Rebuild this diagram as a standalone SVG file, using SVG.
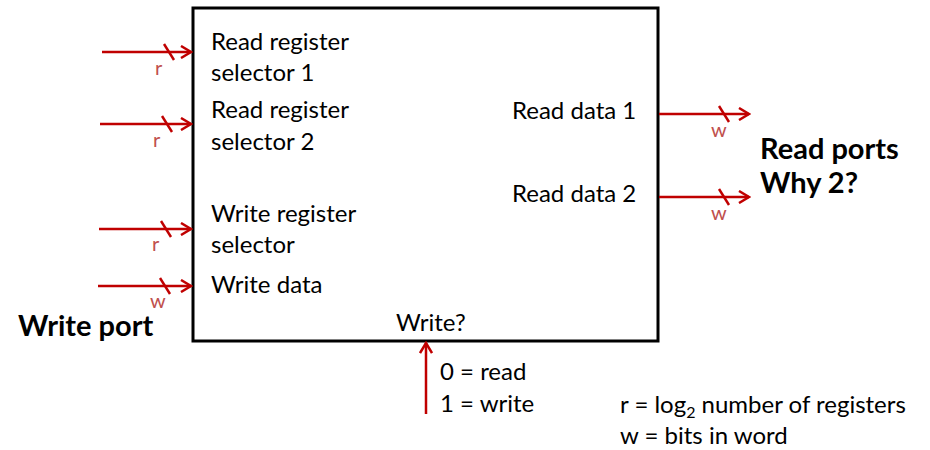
<svg xmlns="http://www.w3.org/2000/svg" width="930" height="450" viewBox="0 0 930 450">
<style>
text{font-family:Lato,"Open Sans","Liberation Sans",sans-serif;font-size:24px;fill:#000}
.lbl{fill:#c0504d;font-size:20px}
.bold{font-weight:bold;font-size:29px}
.wire{stroke:#c00000;stroke-width:2.5;fill:none}
</style>
<defs>
<marker id="ah" markerWidth="14" markerHeight="14" refX="12" refY="7" orient="auto" markerUnits="userSpaceOnUse">
<path d="M2,1 L12,7 L2,13" fill="none" stroke="#c00000" stroke-width="2.5"/>
</marker>
</defs>
<rect width="930" height="450" fill="#fff"/>
<g id="regfile">
<rect x="193" y="8" width="465" height="333" fill="#fff" stroke="#000" stroke-width="3"/>
<text x="211" y="50">Read register</text>
<text x="211" y="81">selector 1</text>
<text x="211" y="118">Read register</text>
<text x="211" y="150">selector 2</text>
<text x="211" y="222">Write register</text>
<text x="211" y="253">selector</text>
<text x="211" y="293">Write data</text>
<text x="396" y="331">Write?</text>
<text x="512" y="119">Read data 1</text>
<text x="512" y="202">Read data 2</text>
</g>
<g id="connectors">
<line class="wire" x1="102" y1="52" x2="191" y2="52" marker-end="url(#ah)"/>
<line class="wire" x1="164" y1="44" x2="174" y2="60"/>
<line class="wire" x1="100" y1="124" x2="191" y2="124" marker-end="url(#ah)"/>
<line class="wire" x1="162" y1="116" x2="172" y2="132"/>
<line class="wire" x1="99" y1="229" x2="191" y2="229" marker-end="url(#ah)"/>
<line class="wire" x1="161" y1="221" x2="171" y2="237"/>
<line class="wire" x1="98" y1="286" x2="191" y2="286" marker-end="url(#ah)"/>
<line class="wire" x1="160" y1="278" x2="170" y2="294"/>
<line class="wire" x1="659" y1="114" x2="749" y2="114" marker-end="url(#ah)"/>
<line class="wire" x1="719" y1="106" x2="729" y2="122"/>
<line class="wire" x1="659" y1="197" x2="749" y2="197" marker-end="url(#ah)"/>
<line class="wire" x1="719" y1="189" x2="729" y2="205"/>
<line class="wire" x1="426" y1="414" x2="426" y2="343" marker-end="url(#ah)"/>
</g>
<g id="labels">
<text class="lbl" x="155" y="75">r</text>
<text class="lbl" x="153" y="147">r</text>
<text class="lbl" x="152" y="251">r</text>
<text class="lbl" x="150" y="308">w</text>
<text class="lbl" x="711" y="137">w</text>
<text class="lbl" x="711" y="220">w</text>
<text class="bold" x="760" y="159">Read ports</text>
<text class="bold" x="760" y="193">Why 2?</text>
<text class="bold" x="18" y="336">Write port</text>
<text x="440" y="380">0 = read</text>
<text x="440" y="412">1 = write</text>
<text x="620" y="413">r = log<tspan font-size="16" dy="5">2</tspan><tspan dy="-5"> number of registers</tspan></text>
<text x="620" y="444">w = bits in word</text>
</g>
</svg>
